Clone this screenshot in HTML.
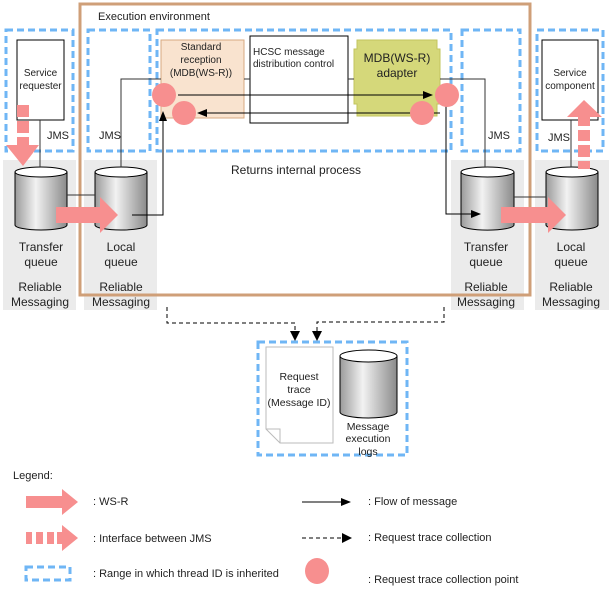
<!DOCTYPE html>
<html><head><meta charset="utf-8"><style>
html,body{margin:0;padding:0;background:#fff}
svg{display:block;font-family:"Liberation Sans",Arial,sans-serif}
text{font-size:11px;fill:#222}
</style></head><body>
<svg width="611" height="589" viewBox="0 0 611 589" xmlns="http://www.w3.org/2000/svg">
<defs>
<marker id="ah" markerWidth="10" markerHeight="8" refX="9" refY="4" orient="auto" markerUnits="userSpaceOnUse"><path d="M0,0 L10,4 L0,8 z" fill="#000"/></marker>
<linearGradient id="cg" x1="0" x2="1"><stop offset="0" stop-color="#9a9a9a"/><stop offset="0.4" stop-color="#f2f2f2"/><stop offset="1" stop-color="#8a8a8a"/></linearGradient>
</defs>
<rect x="3" y="160" width="73" height="150" fill="#ebebeb"/>
<rect x="84" y="160" width="73" height="150" fill="#ebebeb"/>
<rect x="451" y="160" width="73" height="150" fill="#ebebeb"/>
<rect x="535" y="160" width="74" height="150" fill="#ebebeb"/>
<rect x="80" y="4" width="450" height="291" fill="none" stroke="#cf9f78" stroke-width="3"/>
<text x="98" y="20">Execution environment</text>
<g fill="none" stroke="#6fb6f5" stroke-width="3" stroke-dasharray="7,4">
<rect x="6" y="30" width="67" height="121"/>
<rect x="88" y="30" width="62" height="121"/>
<rect x="157" y="30" width="294" height="121"/>
<rect x="462" y="30" width="58" height="121"/>
<rect x="537" y="30" width="66" height="121"/>
<rect x="258" y="342" width="149" height="113"/>
</g>
<rect x="17" y="40" width="47" height="80" fill="#fff" stroke="#000"/>
<text x="40.5" y="76" text-anchor="middle" style="font-size:10px">Service</text>
<text x="40.5" y="89" text-anchor="middle" style="font-size:10px">requester</text>
<rect x="542" y="40" width="56" height="80" fill="#fff" stroke="#000"/>
<text x="570" y="76" text-anchor="middle" style="font-size:10px">Service</text>
<text x="570" y="89" text-anchor="middle" style="font-size:10px">component</text>
<rect x="161" y="40" width="83" height="78" fill="#f9e3cf" stroke="#d7aa80"/>
<text x="201" y="50" text-anchor="middle" style="font-size:10px">Standard</text>
<text x="201" y="63" text-anchor="middle" style="font-size:10px">reception</text>
<text x="201" y="76" text-anchor="middle" style="font-size:10px">(MDB(WS-R))</text>
<rect x="250" y="36" width="98" height="87" fill="#fff" stroke="#000"/>
<text x="253" y="55" style="font-size:10px">HCSC message</text>
<text x="253" y="67" style="font-size:10px">distribution control</text>
<path d="M357,40 H437 V49 H440 V104 H437 V116 H357 V104 H354 V49 H357 Z" fill="#d5d87a" stroke="#c2c45e"/>
<text x="397" y="62" text-anchor="middle" style="font-size:12px">MDB(WS-R)</text>
<text x="397" y="77" text-anchor="middle" style="font-size:12px">adapter</text>
<g stroke="#000" stroke-width="1">
<path d="M15,172 V225 A26,5 0 0 0 67,225 V172" fill="url(#cg)"/><ellipse cx="41" cy="172" rx="26" ry="5" fill="#fff"/>
<path d="M95,172 V225 A26,5 0 0 0 147,225 V172" fill="url(#cg)"/><ellipse cx="121" cy="172" rx="26" ry="5" fill="#fff"/>
<path d="M461,172 V225 A26,5 0 0 0 514,225 V172" fill="url(#cg)"/><ellipse cx="487.5" cy="172" rx="26.5" ry="5" fill="#fff"/>
<path d="M546,172 V225 A26,5 0 0 0 598,225 V172" fill="url(#cg)"/><ellipse cx="572" cy="172" rx="26" ry="5" fill="#fff"/>
<path d="M340,356 V412 A28.5,6 0 0 0 397,412 V356" fill="url(#cg)"/><ellipse cx="368.5" cy="356" rx="28.5" ry="6" fill="#fff"/>
</g>
<g text-anchor="middle">
<text x="41" y="251" style="font-size:12px">Transfer</text><text x="41" y="266" style="font-size:12px">queue</text>
<text x="40" y="291" style="font-size:12px">Reliable</text><text x="40" y="306" style="font-size:12px">Messaging</text>
<text x="121" y="251" style="font-size:12px">Local</text><text x="121" y="266" style="font-size:12px">queue</text>
<text x="121" y="291" style="font-size:12px">Reliable</text><text x="121" y="306" style="font-size:12px">Messaging</text>
<text x="486" y="251" style="font-size:12px">Transfer</text><text x="486" y="266" style="font-size:12px">queue</text>
<text x="486" y="291" style="font-size:12px">Reliable</text><text x="486" y="306" style="font-size:12px">Messaging</text>
<text x="571" y="251" style="font-size:12px">Local</text><text x="571" y="266" style="font-size:12px">queue</text>
<text x="571" y="291" style="font-size:12px">Reliable</text><text x="571" y="306" style="font-size:12px">Messaging</text>
</g>
<text x="47" y="139">JMS</text>
<text x="99" y="139">JMS</text>
<text x="488" y="139">JMS</text>
<text x="548" y="141">JMS</text>
<text x="231" y="174" style="font-size:12px">Returns internal process</text>
<g stroke="#333" stroke-width="1" fill="none">
<path d="M40,120 V167"/>
<path d="M67,195 H95"/>
<path d="M121,167 V79 H161"/>
<path d="M244,79 H250"/>
<path d="M348,79 H354"/>
<path d="M440,79 H485 V167"/>
<path d="M514,197 H546"/>
<path d="M571,120 V167"/>
</g>
<g stroke="#000" stroke-width="1" fill="none">
<path d="M132,215 H163 V112" marker-end="url(#ah)"/>
<path d="M178,95 H432" marker-end="url(#ah)"/>
<path d="M440,113 H198" marker-end="url(#ah)"/>
<path d="M446,100 V214 H480" marker-end="url(#ah)"/>
</g>
<g fill="#f78f8f">
<circle cx="164" cy="95" r="12"/><circle cx="184" cy="113" r="12"/>
<circle cx="422" cy="113" r="12"/><circle cx="447" cy="95" r="12"/>
</g>
<g fill="#f78f8f">
<path d="M56,207 H100 V197 L118,215 L100,233 V223 H56 Z"/>
<path d="M501,207 H548 V197 L566,215 L548,233 V223 H501 Z"/>
<rect x="17" y="105" width="12" height="12"/><rect x="17" y="121" width="12" height="12"/>
<path d="M17,137 H29 V145 H39 L23,166 L6,145 H17 Z"/>
<rect x="578" y="161" width="12" height="8"/><rect x="578" y="145" width="12" height="12"/><rect x="578" y="130" width="12" height="11"/>
<path d="M578,126 H590 V117 H602 L584,100 L567,117 H578 Z"/>
</g>
<g stroke="#000" fill="none" stroke-dasharray="4,3">
<path d="M167,307 V323 H295 V333"/>
<path d="M444,307 V322 H317 V333"/>
</g>
<path d="M290,331 L300,331 L295,341 Z" fill="#000"/>
<path d="M312,331 L322,331 L317,341 Z" fill="#000"/>
<path d="M266,347 H333 V443 H280 L266,429 Z" fill="#fff" stroke="#bbb"/>
<path d="M266,429 H280 V443" fill="none" stroke="#bbb"/>
<g text-anchor="middle">
<text x="299" y="380" style="font-size:10.5px">Request</text><text x="299" y="393" style="font-size:10.5px">trace</text><text x="299" y="406" style="font-size:10.5px">(Message ID)</text>
<text x="368" y="430" style="font-size:10.5px">Message</text><text x="368" y="442" style="font-size:10.5px">execution</text><text x="368" y="455" style="font-size:10.5px">logs</text>
</g>
<text x="13" y="479">Legend:</text>
<path d="M26,496 H62 V489 L78,502 L62,515 V508 H26 Z" fill="#f78f8f"/>
<text x="93" y="505">: WS-R</text>
<g fill="#f78f8f"><rect x="26" y="532" width="6" height="12"/><rect x="36" y="532" width="7" height="12"/><rect x="47" y="532" width="7" height="12"/><path d="M57,532 H62 V525 L78,538 L62,551 V544 H57 Z"/></g>
<text x="93" y="542">: Interface between JMS</text>
<rect x="26" y="567" width="44" height="13" fill="none" stroke="#6fb6f5" stroke-width="3" stroke-dasharray="7,4"/>
<text x="93" y="577">: Range in which thread ID is inherited</text>
<path d="M302,502 H350" stroke="#000" marker-end="url(#ah)"/>
<text x="368" y="505">: Flow of message</text>
<path d="M302,538 H343" stroke="#000" stroke-dasharray="4,3"/><path d="M342,533 L352,538 L342,543 Z"/>
<text x="368" y="541">: Request trace collection</text>
<ellipse cx="317" cy="571" rx="12" ry="13" fill="#f78f8f"/>
<text x="368" y="583">: Request trace collection point</text>
</svg>
</body></html>
